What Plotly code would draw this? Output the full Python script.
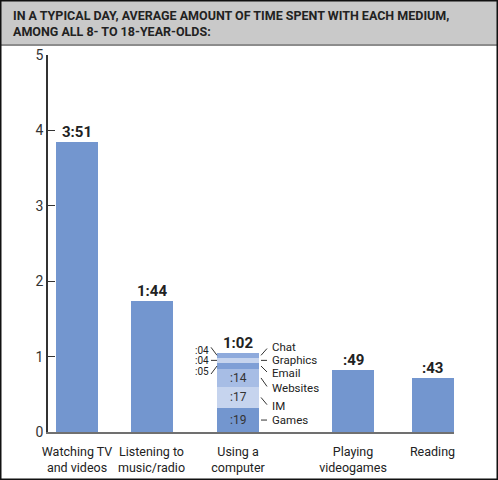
"""
Time spent with each medium, 8- to 18-year-olds
"""

import plotly.graph_objects as go

# Data
categories = ["Watching TV<br>and videos", "Listening to<br>music/radio", "Using a<br>computer",
              "Playing<br>videogames", "Reading"]
hours = [3 + 51 / 60, 1 + 44 / 60, None, 49 / 60, 43 / 60]
hour_labels = ["3:51", "1:44", "1:02", ":49", ":43"]

computer_parts = ["Games", "IM", "Websites", "Email", "Graphics", "Chat"]
computer_minutes = [19, 17, 14, 5, 4, 4]
computer_labels = [":19", ":17", ":14", ":05", ":04", ":04"]

y_ticks = [0, 1, 2, 3, 4, 5]

# Layout (pixel-like x axis so the uneven spacing can be kept)
x_centers = [77, 151.5, 238, 353, 432.5]
bar_width = 42
part_colors = ["#7396cf", "#c6d4ee", "#a7bde5", "#7f9fd6", "#c6d4ee", "#8eaadc"]
BAR = "#7396cf"
FONT = "Roboto, Liberation Sans, sans-serif"
PX_PER_HOUR = 75.4
# pixel offsets of outside labels from each segment centre
right_dy = [0, 8.5, 10, 7, 0, -8]
left_dy = {3: 5, 4: 0, 5: -5}

fig = go.Figure()

main_x = [x for x, h in zip(x_centers, hours) if h is not None]
main_y = [h for h in hours if h is not None]
fig.add_trace(go.Bar(x=main_x, y=main_y, width=bar_width, marker=dict(color=BAR, line=dict(width=0)),
                     showlegend=False, hoverinfo="y"))

cx = x_centers[2]
for part, mins, col in zip(computer_parts, computer_minutes, part_colors):
    fig.add_trace(go.Bar(
        x=[cx], y=[mins / 60], width=bar_width, name=part,
        marker=dict(color=col, line=dict(width=0)),
        showlegend=False, hoverinfo="name+y"
    ))

# value labels on top of bars
tops = list(hours)
tops[2] = sum(computer_minutes) / 60
for x, t, lab in zip(x_centers, tops, hour_labels):
    fig.add_annotation(x=x, y=t, text="<b>%s</b>" % lab, showarrow=False, yanchor="bottom",
                       yshift=-1, font=dict(family=FONT, size=15, color="#222222"))

# segment call-outs
shapes = []
cum = 0
for i, (part, mins, lab) in enumerate(zip(computer_parts, computer_minutes, computer_labels)):
    centre = (cum + mins / 2) / 60
    cum += mins
    if mins >= 10:
        fig.add_annotation(x=cx, y=centre, text=lab, showarrow=False,
                           font=dict(family=FONT, size=12, color="#333333"))
    dy = right_dy[i] / PX_PER_HOUR
    fig.add_annotation(x=270, y=centre - dy, text=part, showarrow=False, xanchor="left",
                       font=dict(family=FONT, size=11.5, color="#222222"))
    shapes.append(dict(type="line", xref="x", yref="y", x0=261, x1=267, y0=centre, y1=centre - dy * 0.85,
                       line=dict(color="#333333", width=1)))
    if i in left_dy:
        ldy = left_dy[i] / PX_PER_HOUR
        fig.add_annotation(x=211, y=centre - ldy, text=lab, showarrow=False, xanchor="right",
                           font=dict(family=FONT, size=10, color="#222222"))
        shapes.append(dict(type="line", xref="x", yref="y", x0=217, x1=211, y0=centre,
                           y1=centre - ldy * 1.6, line=dict(color="#333333", width=1)))

# header band and frame (paper coords: plot area is 48..454 px wide, 55..432 px high)
def px(q):
    return (q - 48) / 406

def py(p):
    return (432 - p) / 377

shapes += [
    dict(type="rect", xref="paper", yref="paper", x0=px(0), x1=px(498), y0=py(44), y1=py(0),
         fillcolor="#c9c9c9", line=dict(width=0), layer="below"),
    dict(type="line", xref="paper", yref="paper", x0=px(0), x1=px(498), y0=py(45), y1=py(45),
         line=dict(color="#8c8c8c", width=2)),
    dict(type="rect", xref="paper", yref="paper", x0=px(0.75), x1=px(497.25), y0=py(479.25), y1=py(0.75),
         line=dict(color="#111111", width=1.5)),
]

fig.add_annotation(xref="paper", yref="paper", x=px(11), y=py(24), xanchor="left", yanchor="middle",
                   align="left", showarrow=False,
                   text="<b>IN A TYPICAL DAY, AVERAGE AMOUNT OF TIME SPENT WITH EACH MEDIUM,<br>"
                        "AMONG ALL 8- TO 18-YEAR-OLDS:</b>",
                   font=dict(family=FONT, size=12.5, color="#222222"))

fig.update_layout(
    width=498, height=480,
    margin=dict(l=48, r=44, t=55, b=48, autoexpand=False),
    paper_bgcolor="white", plot_bgcolor="white",
    barmode="stack", bargap=0,
    shapes=shapes,
    font=dict(family=FONT, color="#222222"),
)

fig.update_xaxes(range=[48, 454], tickvals=x_centers, ticktext=categories, showline=True,
                 linecolor="#707070", linewidth=2, ticks="", showgrid=False, zeroline=False,
                 tickangle=0, automargin=False, ticklabelstandoff=7,
                 tickfont=dict(family=FONT, size=12.5, color="#222222"))
fig.update_yaxes(range=[0, 5], tickvals=y_ticks, showline=True, linecolor="#333333", linewidth=1.5,
                 ticks="inside", ticklen=7, tickcolor="#333333", showgrid=False, zeroline=False,
                 automargin=False,
                 tickfont=dict(family=FONT, size=14, color="#333333"))

# drop the page's default body margin so the figure sits at the window's corner
fig.write_html("out.html", config={"displayModeBar": False},
               post_script="document.body.style.margin='0';")
